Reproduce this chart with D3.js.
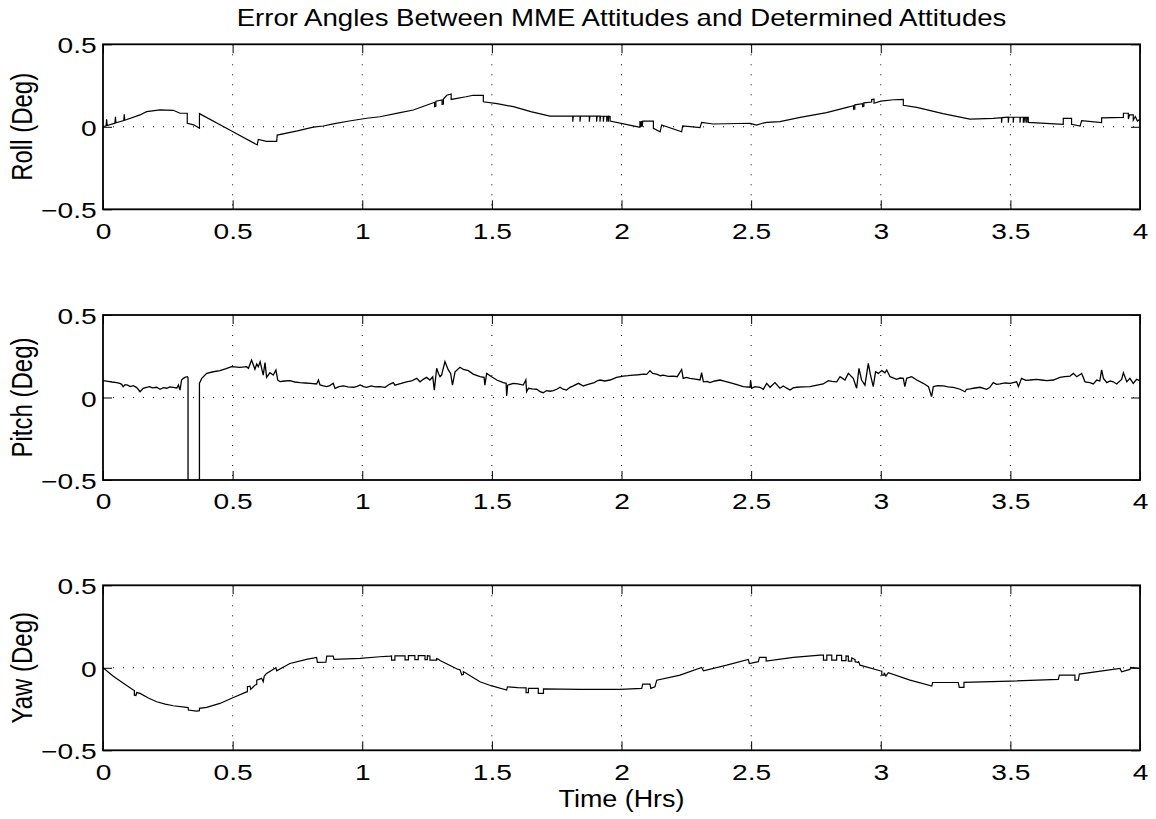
<!DOCTYPE html>
<html><head><meta charset="utf-8">
<script src="https://cdn.jsdelivr.net/npm/d3@7"></script>
<style>body{margin:0;background:#fff}svg{display:block}</style>
</head><body>
<svg id="chart" width="1156" height="819"></svg>
<script>
const chartTitle = "Error Angles Between MME Attitudes and Determined Attitudes";
const xLabel = "Time (Hrs)";
const panelLabels = ["Roll (Deg)", "Pitch (Deg)", "Yaw (Deg)"];
const xTicks = [0, 0.5, 1, 1.5, 2, 2.5, 3, 3.5, 4];
const xTickLabels = ["0", "0.5", "1", "1.5", "2", "2.5", "3", "3.5", "4"];
const yTicks = [-0.5, 0, 0.5];
const yTickLabels = ["\u22120.5", "0", "0.5"];

// [time (hrs), angle (deg)]
const roll = [[0,0],[0.012,0.006],[0.014,0.045],[0.016,0.008],[0.046,0.022],[0.048,0.06],[0.050,0.024],[0.080,0.038],[0.082,0.075],[0.084,0.040],[0.143,0.072],[0.168,0.092],[0.22,0.102],[0.271,0.100],[0.297,0.082],[0.325,0.082],[0.325,0.021],[0.35,0.012],[0.372,-0.009],[0.372,0.08],[0.48,-0.012],[0.595,-0.11],[0.599,-0.077],[0.63,-0.088],[0.670,-0.088],[0.672,-0.05],[0.75,-0.025],[0.811,-0.002],[0.85,0.005],[0.888,0.018],[0.95,0.035],[1.017,0.052],[1.068,0.061],[1.146,0.086],[1.197,0.102],[1.274,0.146],[1.279,0.148],[1.279,0.122],[1.284,0.124],[1.284,0.155],[1.308,0.163],[1.308,0.136],[1.313,0.138],[1.313,0.168],[1.326,0.191],[1.343,0.199],[1.343,0.166],[1.40,0.182],[1.428,0.191],[1.467,0.191],[1.467,0.152],[1.52,0.14],[1.583,0.122],[1.65,0.092],[1.724,0.065],[1.80,0.065],[1.812,0.065],[1.812,0.031],[1.814,0.065],[1.840,0.065],[1.840,0.031],[1.842,0.065],[1.876,0.065],[1.876,0.031],[1.878,0.065],[1.904,0.065],[1.904,0.031],[1.906,0.065],[1.917,0.065],[1.917,0.031],[1.919,0.065],[1.930,0.064],[1.930,0.031],[1.932,0.064],[1.943,0.064],[1.943,0.031],[1.945,0.064],[1.949,0.064],[1.949,0.031],[1.951,0.064],[1.956,0.063],[1.956,0.035],[2.059,0.001],[2.071,-0.003],[2.071,0.035],[2.074,0.0],[2.077,0.035],[2.080,0.0],[2.082,0.035],[2.123,0.035],[2.123,-0.009],[2.149,-0.030],[2.155,0.011],[2.232,-0.030],[2.236,0.005],[2.303,-0.005],[2.309,0.027],[2.354,0.017],[2.45,0.02],[2.496,0.021],[2.521,0.010],[2.54,0.02],[2.560,0.027],[2.611,0.031],[2.689,0.057],[2.791,0.086],[2.87,0.118],[2.895,0.128],[2.895,0.106],[2.900,0.108],[2.900,0.133],[2.930,0.140],[2.930,0.122],[2.935,0.124],[2.935,0.145],[2.965,0.150],[2.965,0.166],[2.974,0.168],[2.974,0.143],[3.0,0.156],[3.05,0.164],[3.087,0.166],[3.087,0.130],[3.139,0.118],[3.24,0.08],[3.344,0.047],[3.434,0.051],[3.466,0.055],[3.466,0.025],[3.468,0.056],[3.492,0.058],[3.492,0.025],[3.494,0.058],[3.511,0.058],[3.511,0.025],[3.513,0.058],[3.537,0.058],[3.537,0.025],[3.539,0.058],[3.550,0.058],[3.550,0.025],[3.552,0.058],[3.556,0.058],[3.556,0.025],[3.558,0.058],[3.563,0.058],[3.563,0.025],[3.565,0.058],[3.569,0.058],[3.569,0.027],[3.704,0.015],[3.704,0.051],[3.736,0.051],[3.736,0.015],[3.769,0.005],[3.775,0.037],[3.852,0.025],[3.852,0.054],[3.936,0.057],[3.936,0.082],[3.955,0.082],[3.955,0.047],[3.960,0.072],[3.974,0.072],[3.974,0.040],[3.982,0.062],[3.990,0.035],[4.0,0.045]];

const pitch = [[0,0.102],[0.02,0.098],[0.035,0.094],[0.0527,0.090],[0.065,0.085],[0.072,0.080],[0.078,0.066],[0.085,0.078],[0.095,0.075],[0.105,0.066],[0.117,0.072],[0.13,0.060],[0.143,0.035],[0.155,0.055],[0.168,0.062],[0.18,0.066],[0.19,0.058],[0.207,0.062],[0.220,0.050],[0.233,0.060],[0.246,0.056],[0.258,0.064],[0.271,0.062],[0.285,0.058],[0.291,0.076],[0.297,0.045],[0.303,0.106],[0.310,0.116],[0.316,0.122],[0.325,0.126],[0.328,0.120],[0.328,-0.8],[0.372,-0.8],[0.372,0.086],[0.381,0.116],[0.400,0.147],[0.425,0.156],[0.451,0.163],[0.475,0.175],[0.496,0.187],[0.528,0.183],[0.554,0.187],[0.561,0.177],[0.573,0.227],[0.586,0.171],[0.593,0.203],[0.599,0.187],[0.606,0.217],[0.618,0.136],[0.625,0.211],[0.631,0.122],[0.644,0.150],[0.657,0.136],[0.667,0.167],[0.674,0.106],[0.683,0.096],[0.70,0.100],[0.721,0.102],[0.740,0.094],[0.760,0.090],[0.78,0.088],[0.80,0.085],[0.824,0.082],[0.831,0.106],[0.837,0.076],[0.850,0.070],[0.863,0.066],[0.875,0.072],[0.888,0.086],[0.895,0.055],[0.910,0.066],[0.927,0.070],[0.945,0.064],[0.966,0.062],[0.980,0.068],[0.992,0.076],[1.005,0.066],[1.017,0.062],[1.035,0.070],[1.05,0.064],[1.068,0.066],[1.088,0.062],[1.105,0.080],[1.120,0.090],[1.126,0.075],[1.150,0.085],[1.171,0.095],[1.190,0.100],[1.210,0.116],[1.223,0.095],[1.235,0.110],[1.248,0.122],[1.261,0.106],[1.272,0.126],[1.278,0.045],[1.287,0.177],[1.294,0.146],[1.300,0.126],[1.306,0.136],[1.319,0.217],[1.332,0.167],[1.341,0.146],[1.348,0.075],[1.358,0.156],[1.377,0.183],[1.390,0.170],[1.409,0.163],[1.428,0.142],[1.454,0.126],[1.470,0.122],[1.473,0.075],[1.480,0.146],[1.499,0.126],[1.519,0.106],[1.544,0.090],[1.555,0.086],[1.557,0.009],[1.561,0.075],[1.583,0.086],[1.600,0.082],[1.621,0.075],[1.631,0.106],[1.634,0.035],[1.641,0.056],[1.655,0.052],[1.673,0.050],[1.686,0.035],[1.698,0.029],[1.711,0.042],[1.725,0.038],[1.737,0.042],[1.750,0.050],[1.763,0.062],[1.775,0.050],[1.788,0.045],[1.800,0.060],[1.814,0.070],[1.834,0.086],[1.853,0.070],[1.865,0.076],[1.878,0.082],[1.895,0.090],[1.905,0.100],[1.917,0.106],[1.935,0.100],[1.956,0.106],[1.981,0.122],[2.007,0.130],[2.025,0.132],[2.046,0.136],[2.065,0.138],[2.084,0.142],[2.097,0.140],[2.110,0.163],[2.120,0.146],[2.136,0.142],[2.150,0.132],[2.161,0.136],[2.180,0.128],[2.200,0.130],[2.215,0.126],[2.232,0.170],[2.238,0.116],[2.250,0.122],[2.264,0.116],[2.285,0.112],[2.303,0.106],[2.309,0.150],[2.316,0.095],[2.330,0.098],[2.341,0.090],[2.360,0.100],[2.380,0.106],[2.400,0.098],[2.418,0.090],[2.445,0.078],[2.470,0.066],[2.496,0.062],[2.498,0.106],[2.502,0.056],[2.515,0.066],[2.534,0.062],[2.547,0.050],[2.560,0.086],[2.573,0.062],[2.592,0.090],[2.611,0.056],[2.624,0.070],[2.636,0.058],[2.650,0.045],[2.662,0.058],[2.676,0.062],[2.700,0.064],[2.727,0.066],[2.750,0.074],[2.778,0.082],[2.798,0.102],[2.812,0.098],[2.830,0.095],[2.843,0.126],[2.862,0.106],[2.875,0.146],[2.894,0.116],[2.907,0.056],[2.916,0.177],[2.926,0.106],[2.939,0.075],[2.952,0.207],[2.959,0.146],[2.971,0.066],[2.980,0.156],[2.991,0.146],[3.004,0.163],[3.016,0.150],[3.023,0.167],[3.036,0.126],[3.061,0.110],[3.075,0.118],[3.087,0.116],[3.093,0.066],[3.100,0.116],[3.119,0.126],[3.139,0.106],[3.164,0.086],[3.184,0.066],[3.196,0.005],[3.203,0.066],[3.220,0.072],[3.241,0.070],[3.260,0.064],[3.280,0.062],[3.306,0.050],[3.325,0.035],[3.331,0.050],[3.345,0.052],[3.357,0.056],[3.383,0.062],[3.408,0.050],[3.420,0.060],[3.434,0.090],[3.447,0.080],[3.460,0.082],[3.480,0.088],[3.499,0.086],[3.524,0.095],[3.531,0.066],[3.543,0.116],[3.560,0.104],[3.576,0.106],[3.601,0.110],[3.620,0.106],[3.640,0.102],[3.666,0.106],[3.691,0.122],[3.710,0.126],[3.730,0.130],[3.743,0.146],[3.756,0.126],[3.775,0.146],[3.788,0.095],[3.807,0.090],[3.820,0.082],[3.833,0.106],[3.845,0.100],[3.852,0.167],[3.859,0.116],[3.872,0.090],[3.885,0.100],[3.897,0.095],[3.910,0.082],[3.929,0.110],[3.936,0.150],[3.949,0.095],[3.961,0.116],[3.974,0.086],[3.987,0.110],[4.0,0.102]];

const yaw = [[0,0],[0.0385,-0.050],[0.08,-0.095],[0.117,-0.135],[0.121,-0.137],[0.121,-0.166],[0.127,-0.168],[0.130,-0.150],[0.143,-0.155],[0.175,-0.183],[0.207,-0.206],[0.24,-0.220],[0.271,-0.230],[0.322,-0.240],[0.329,-0.242],[0.329,-0.256],[0.361,-0.262],[0.372,-0.260],[0.372,-0.246],[0.400,-0.240],[0.451,-0.216],[0.503,-0.180],[0.554,-0.146],[0.557,-0.145],[0.557,-0.115],[0.567,-0.111],[0.570,-0.131],[0.580,-0.115],[0.586,-0.105],[0.593,-0.100],[0.593,-0.075],[0.612,-0.064],[0.618,-0.085],[0.622,-0.050],[0.631,-0.034],[0.667,0.0],[0.670,-0.018],[0.721,0.026],[0.785,0.051],[0.824,0.063],[0.827,0.033],[0.860,0.034],[0.863,0.071],[0.888,0.071],[0.891,0.051],[0.992,0.057],[1.068,0.067],[1.107,0.071],[1.113,0.072],[1.113,0.047],[1.126,0.047],[1.126,0.072],[1.165,0.073],[1.165,0.048],[1.178,0.048],[1.178,0.074],[1.203,0.074],[1.203,0.049],[1.216,0.049],[1.216,0.074],[1.242,0.074],[1.242,0.050],[1.251,0.050],[1.251,0.074],[1.261,0.072],[1.261,0.047],[1.287,0.047],[1.287,0.055],[1.294,0.051],[1.300,0.044],[1.370,-0.010],[1.377,-0.012],[1.384,-0.044],[1.390,-0.040],[1.390,-0.024],[1.396,-0.028],[1.454,-0.085],[1.50,-0.110],[1.557,-0.135],[1.560,-0.115],[1.60,-0.120],[1.632,-0.122],[1.632,-0.151],[1.641,-0.151],[1.641,-0.125],[1.679,-0.125],[1.679,-0.155],[1.699,-0.155],[1.699,-0.128],[1.840,-0.131],[1.994,-0.131],[2.078,-0.125],[2.082,-0.099],[2.110,-0.099],[2.113,-0.125],[2.129,-0.115],[2.136,-0.075],[2.226,-0.044],[2.309,0.002],[2.316,-0.018],[2.406,0.016],[2.489,0.051],[2.493,0.026],[2.528,0.037],[2.532,0.063],[2.558,0.063],[2.558,0.041],[2.663,0.063],[2.766,0.077],[2.779,0.077],[2.779,0.047],[2.792,0.047],[2.792,0.077],[2.811,0.077],[2.811,0.047],[2.830,0.047],[2.830,0.076],[2.849,0.075],[2.849,0.043],[2.866,0.043],[2.866,0.072],[2.875,0.071],[2.875,0.041],[2.888,0.041],[2.888,0.060],[2.901,0.050],[2.901,0.037],[2.914,0.032],[2.914,0.040],[2.920,0.016],[2.997,-0.018],[3.004,-0.020],[3.004,-0.044],[3.013,-0.044],[3.013,-0.030],[3.020,-0.050],[3.029,-0.030],[3.113,-0.075],[3.197,-0.111],[3.200,-0.089],[3.299,-0.089],[3.303,-0.119],[3.321,-0.119],[3.321,-0.088],[3.499,-0.081],[3.685,-0.070],[3.689,-0.044],[3.749,-0.044],[3.749,-0.075],[3.762,-0.075],[3.766,-0.038],[3.923,-0.004],[3.929,-0.024],[3.961,-0.010],[3.964,0.002],[4.0,-0.004]];

const series = [roll, pitch, yaw];

const FONT = '"Liberation Sans", Arial, Helvetica, sans-serif';
const xLeft = 103, xRight = 1140;
const panelTop = [44.3, 315, 585.3];
const panelH = 165;
const tickLen = 9;

const svg = d3.select("#chart");
svg.append("rect").attr("width", 1156).attr("height", 819).attr("fill", "#fff");
const x = d3.scaleLinear().domain([0, 4]).range([xLeft, xRight]);

series.forEach((data, i) => {
  const top = panelTop[i];
  const y = d3.scaleLinear().domain([-0.5, 0.5]).range([top + panelH, top]);
  const g = svg.append("g");
  const clipId = "clip" + i;
  svg.append("clipPath").attr("id", clipId).append("rect")
    .attr("x", xLeft).attr("y", top).attr("width", xRight - xLeft).attr("height", panelH);

  // dotted grid
  g.selectAll("line.vg").data(xTicks.filter(t => t > 0 && t < 4)).join("line")
    .attr("class", "vg")
    .attr("x1", d => x(d)).attr("x2", d => x(d))
    .attr("y1", top).attr("y2", top + panelH)
    .attr("stroke", "#000").attr("stroke-width", 1).attr("stroke-dasharray", "1,9");
  g.selectAll("line.hg").data(yTicks.filter(t => t > -0.5 && t < 0.5)).join("line")
    .attr("class", "hg")
    .attr("x1", xLeft).attr("x2", xRight)
    .attr("y1", d => y(d)).attr("y2", d => y(d))
    .attr("stroke", "#000").attr("stroke-width", 1).attr("stroke-dasharray", "1,9");

  // data line
  g.append("path").datum(data)
    .attr("clip-path", `url(#${clipId})`)
    .attr("d", d3.line().x(d => x(d[0])).y(d => y(d[1])))
    .attr("fill", "none").attr("stroke", "#000").attr("stroke-width", i === 1 ? 1.3 : 1.2)
    .attr("stroke-linejoin", "miter");

  // axes (ticks inward)
  const axB = g.append("g").attr("transform", `translate(0,${top + panelH})`)
    .call(d3.axisBottom(x).tickValues(xTicks).tickSize(-tickLen).tickSizeOuter(0)
      .tickFormat((d, k) => xTickLabels[k]));
  axB.selectAll("text").attr("y", 29.5).attr("dy", 0)
    .attr("transform", "scale(1.28,1)");
  const axT = g.append("g").attr("transform", `translate(0,${top})`)
    .call(d3.axisTop(x).tickValues(xTicks).tickSize(-tickLen).tickSizeOuter(0).tickFormat(""));
  const axL = g.append("g").attr("transform", `translate(${xLeft},0)`)
    .call(d3.axisLeft(y).tickValues(yTicks).tickSize(-tickLen).tickSizeOuter(0)
      .tickFormat((d, k) => yTickLabels[k]));
  axL.selectAll("text").attr("x", -5).attr("y", 8.5).attr("dy", 0)
    .attr("transform", "scale(1.28,1)");
  const axR = g.append("g").attr("transform", `translate(${xRight},0)`)
    .call(d3.axisRight(y).tickValues(yTicks).tickSize(-tickLen).tickSizeOuter(0).tickFormat(""));
  [axB, axT, axL, axR].forEach(a => {
    a.select(".domain").remove();
    a.selectAll("line").attr("stroke", "#000").attr("stroke-width", 1);
    a.selectAll("text").attr("font-family", FONT).attr("font-size", 22).attr("fill", "#000");
  });

  // box
  g.append("rect").attr("x", xLeft).attr("y", top)
    .attr("width", xRight - xLeft).attr("height", panelH)
    .attr("fill", "none").attr("stroke", "#000").attr("stroke-width", 1.8);

  // y label
  svg.append("text")
    .attr("transform", `translate(32,${top + panelH / 2}) rotate(-90) scale(1,1.2)`)
    .attr("text-anchor", "middle")
    .attr("font-family", FONT).attr("font-size", 24).attr("fill", "#000")
    .text(panelLabels[i]);
});

svg.append("text")
  .attr("transform", `translate(${(xLeft + xRight) / 2},26) scale(1.2,1)`)
  .attr("text-anchor", "middle")
  .attr("font-family", FONT).attr("font-size", 23).attr("fill", "#000")
  .text(chartTitle);

svg.append("text")
  .attr("transform", `translate(${(xLeft + xRight) / 2},806.5) scale(1.17,1)`)
  .attr("text-anchor", "middle")
  .attr("font-family", FONT).attr("font-size", 23).attr("fill", "#000")
  .text(xLabel);
</script>
</body></html>
